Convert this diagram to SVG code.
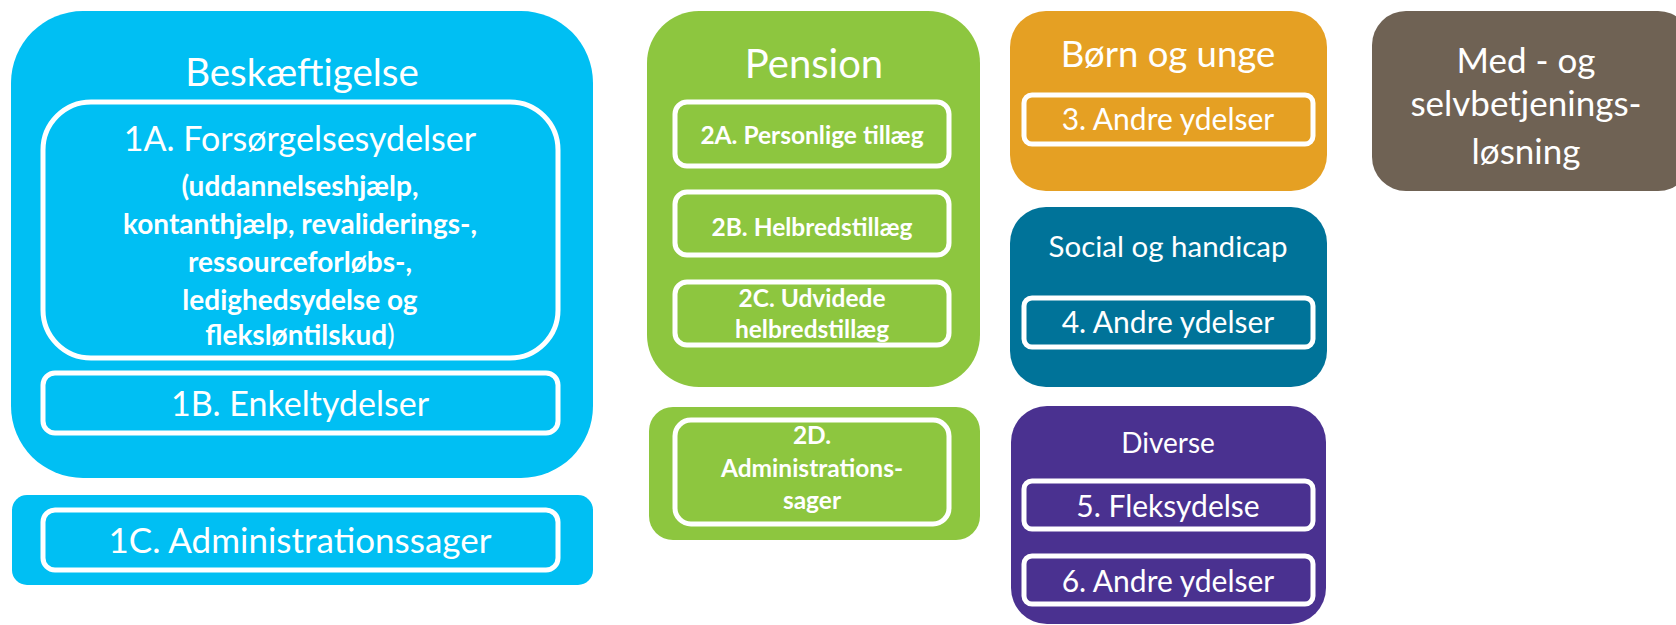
<svg xmlns="http://www.w3.org/2000/svg" width="1676" height="625" viewBox="0 0 1676 625">
<style>
.t{font-family:Lato,"Open Sans","Liberation Sans",sans-serif;fill:#fff;text-anchor:middle}
.b{font-weight:bold}
.in{fill:none;stroke:#fff;stroke-width:5}
</style>
<rect width="1676" height="625" fill="#fff"/>
<g id="beskaeftigelse">
<rect x="11" y="11" width="582" height="467" rx="72" fill="#00BFF3"/>
<text class="t" x="302" y="86" font-size="38.5">Beskæftigelse</text>
</g>
<g id="n1A">
<rect class="in" x="43" y="102" width="515" height="256" rx="48"/>
<text class="t" x="300" y="151" font-size="34">1A. Forsørgelsesydelser</text>
<text class="t b" x="300" y="196" font-size="28">(uddannelseshjælp,</text>
<text class="t b" x="300" y="234" font-size="28">kontanthjælp, revaliderings-,</text>
<text class="t b" x="300" y="272" font-size="28">ressourceforløbs-,</text>
<text class="t b" x="300" y="310" font-size="28">ledighedsydelse og</text>
<text class="t" x="300" y="345" font-size="28"><tspan font-weight="bold">fleksløntilskud</tspan>)</text>
</g>
<g id="n1B">
<rect class="in" x="43" y="373" width="515" height="60" rx="12"/>
<text class="t" x="300" y="416" font-size="34">1B. Enkeltydelser</text>
</g>
<g id="n1C">
<rect x="12" y="495" width="581" height="90" rx="15" fill="#00BFF3"/>
<rect class="in" x="43" y="510" width="515" height="60" rx="12"/>
<text class="t" x="300" y="553" font-size="35">1C. Administrationssager</text>
</g>
<g id="pension">
<rect x="647" y="11" width="333" height="376" rx="52" fill="#8DC63F"/>
<text class="t" x="814" y="78" font-size="40">Pension</text>
</g>
<g id="n2A">
<rect class="in" x="675" y="102" width="274" height="64" rx="12"/>
<text class="t b" x="812" y="144" font-size="24.5">2A. Personlige tillæg</text>
</g>
<g id="n2B">
<rect class="in" x="675" y="192" width="274" height="63" rx="12"/>
<text class="t b" x="812" y="236" font-size="24.5">2B. Helbredstillæg</text>
</g>
<g id="n2C">
<rect class="in" x="675" y="282" width="274" height="63" rx="12"/>
<text class="t b" x="812" y="307" font-size="24.5">2C. Udvidede</text>
<text class="t b" x="812" y="338" font-size="24.5">helbredstillæg</text>
</g>
<g id="n2D">
<rect x="649" y="407" width="331" height="133" rx="24" fill="#8DC63F"/>
<rect class="in" x="675" y="420" width="274" height="104" rx="16"/>
<text class="t b" x="812" y="444" font-size="24.5">2D.</text>
<text class="t b" x="812" y="477" font-size="24.5">Administrations-</text>
<text class="t b" x="812" y="509" font-size="24.5">sager</text>
</g>
<g id="born">
<rect x="1010" y="11" width="317" height="180" rx="36" fill="#E5A023"/>
<text class="t" x="1168" y="67" font-size="36.5">Børn og unge</text>
<rect class="in" x="1024" y="95" width="289" height="49" rx="8"/>
<text class="t" x="1168" y="130" font-size="30">3. Andre ydelser</text>
</g>
<g id="social">
<rect x="1010" y="207" width="317" height="180" rx="36" fill="#007399"/>
<text class="t" x="1168" y="257" font-size="29.5">Social og handicap</text>
<rect class="in" x="1024" y="298" width="289" height="49" rx="8"/>
<text class="t" x="1168" y="333" font-size="30">4. Andre ydelser</text>
</g>
<g id="diverse">
<rect x="1011" y="406" width="315" height="218" rx="36" fill="#4A3190"/>
<text class="t" x="1168" y="453" font-size="28">Diverse</text>
<rect class="in" x="1024" y="481" width="289" height="48" rx="8"/>
<text class="t" x="1168" y="517" font-size="30">5. Fleksydelse</text>
<rect class="in" x="1024" y="556" width="289" height="48" rx="8"/>
<text class="t" x="1168" y="592" font-size="30">6. Andre ydelser</text>
</g>
<g id="selvbetjening">
<rect x="1372" y="11" width="320" height="180" rx="34" fill="#6F6254"/>
<text class="t" x="1526" y="73" font-size="35">Med - og</text>
<text class="t" x="1526" y="116" font-size="35">selvbetjenings-</text>
<text class="t" x="1526" y="164" font-size="35">løsning</text>
</g>
<g id="connectors"/>
</svg>
